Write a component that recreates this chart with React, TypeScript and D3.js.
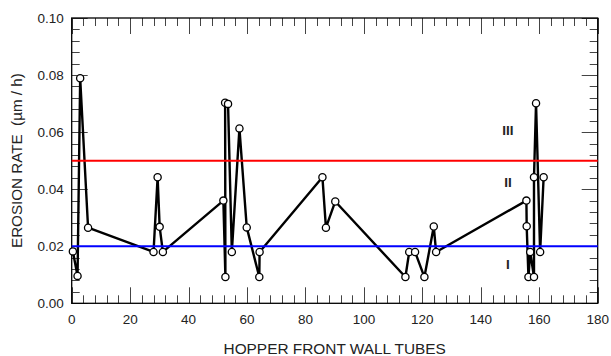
import React from 'react'
import * as d3 from 'd3'

// hopper front wall tube number vs measured erosion rate
const tubeNumbers = [
  0.4, 2.0, 2.9, 5.6, 28.0, 29.4, 30.1, 31.2, 51.9, 52.6, 52.5, 53.5, 54.8, 57.4, 59.9,
  64.2, 64.3, 85.8, 87.0, 90.2, 114.2, 115.5, 117.5, 120.7, 123.9, 124.7, 155.6, 155.7,
  156.3, 156.9, 158.2, 158.2, 158.9, 160.3, 161.5
]
const erosionRates = [
  0.0182, 0.0096, 0.0789, 0.0265, 0.018, 0.0442, 0.0268, 0.018, 0.036, 0.0092, 0.0703,
  0.0699, 0.018, 0.0613, 0.0266, 0.0092, 0.018, 0.0442, 0.0265, 0.0357, 0.0092, 0.018,
  0.018, 0.0092, 0.0269, 0.018, 0.036, 0.027, 0.0092, 0.018, 0.0092, 0.0442, 0.0701,
  0.018, 0.0442
]

// zone limits and zone names
const limitValues = [0.02, 0.05]
const limitColors = ['#0000ff', '#ff0000']
const zoneNames = ['I', 'II', 'III']
const zoneRates = [0.0138, 0.0423, 0.0607]

const xTicks = [0, 20, 40, 60, 80, 100, 120, 140, 160, 180]
const yTicks = [0, 0.02, 0.04, 0.06, 0.08, 0.1]

const width = 611,
      height = 356,
      left = 71.7,
      right = 597.7,
      top = 18,
      bottom = 303.3
const font = 'Liberation Sans, Arial, sans-serif'

const xScale = d3.scaleLinear().domain([0, 180]).range([left, right])
const yScale = d3.scaleLinear().domain([0, 0.1]).range([bottom, top])

const App = () => {
  const points = tubeNumbers.map((t, i) => [t, erosionRates[i]] as [number, number])
  const line = d3.line<[number, number]>()
                 .x(d => xScale(d[0]))
                 .y(d => yScale(d[1]))

  const xMinor = d3.range(0, 181, 4)
  const yMinor = d3.range(0, 26).map(i => i * 0.004)

  return (
    <svg width={width} height={height}
         style={{ position: 'fixed', left: 0, top: 0, background: '#fff' }}>
      {/* minor + major ticks, all inside the frame */}
      <g stroke="#444" strokeWidth={1}>
        {xMinor.map(v => {
          const len = v % 20 === 0 ? 16 : 8
          const x = Math.round(xScale(v)) + 0.5
          return (
            <g key={'x' + v}>
              <line x1={x} x2={x} y1={bottom} y2={bottom - len} />
              <line x1={x} x2={x} y1={top} y2={top + len} />
            </g>
          )
        })}
        {yMinor.map((v, i) => {
          const len = i % 5 === 0 ? 16 : 8
          const y = Math.round(yScale(v)) + 0.5
          return (
            <g key={'y' + i}>
              <line x1={left} x2={left + len} y1={y} y2={y} />
              <line x1={right} x2={right - len} y1={y} y2={y} />
            </g>
          )
        })}
      </g>

      <rect x={left} y={top} width={right - left} height={bottom - top}
            fill="none" stroke="#000" strokeWidth={1.3} />

      {/* tick labels */}
      <g fontFamily={font} fontSize={13.5} fill="#222">
        {xTicks.map(v => (
          <text key={v} x={xScale(v)} y={bottom + 21} textAnchor="middle">{v}</text>
        ))}
        {yTicks.map(v => (
          <text key={v} x={left - 8} y={yScale(v) + 5} textAnchor="end">{d3.format('.2f')(v)}</text>
        ))}
      </g>

      {/* data line */}
      <path d={line(points) || ''} fill="none" stroke="#000" strokeWidth={2.4}
            strokeLinejoin="round" />

      {/* zone limits */}
      {limitValues.map((v, i) => (
        <line key={v} x1={left} x2={right} y1={yScale(v)} y2={yScale(v)}
              stroke={limitColors[i]} strokeWidth={2} />
      ))}

      {points.map((d, i) => (
        <circle key={i} cx={xScale(d[0])} cy={yScale(d[1])} r={3.6}
                fill="#fff" stroke="#000" strokeWidth={1.3} />
      ))}

      {zoneNames.map((name, i) => (
        <text key={name} x={xScale(149.3)} y={yScale(zoneRates[i])} dy="0.35em"
              textAnchor="middle" fontFamily={font} fontSize={13.5} fontWeight="bold" fill="#222">
          {name}
        </text>
      ))}

      <text x={(left + right) / 2} y={354} textAnchor="middle"
            fontFamily={font} fontSize={15.4} fill="#222">HOPPER FRONT WALL TUBES</text>
      <text transform={`translate(22, ${(top + bottom) / 2}) rotate(-90)`} textAnchor="middle"
            fontFamily={font} fontSize={15.2} fill="#222" style={{ whiteSpace: 'pre' }}>
        {'EROSION RATE  (µm / h)'}
      </text>
    </svg>
  )
}

export default App
